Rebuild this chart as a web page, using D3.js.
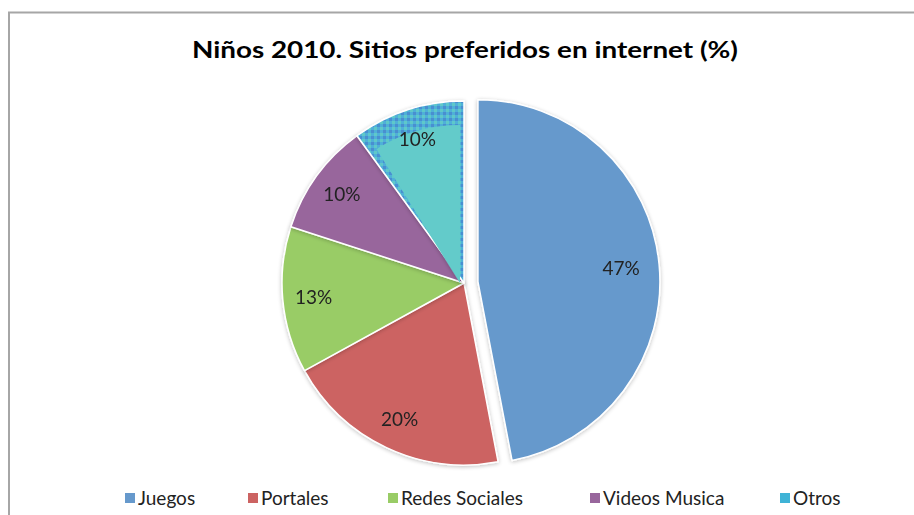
<!DOCTYPE html>
<html>
<head>
<meta charset="utf-8">
<script src="https://cdn.jsdelivr.net/npm/d3@7"></script>
<style>
  html, body { margin: 0; padding: 0; background: #fff; }
  svg { display: block; }
</style>
</head>
<body>
<svg id="chart" width="914" height="515"></svg>
<script>
// Sitios preferidos en internet por niños, 2010 (%)
const categories = ["Juegos", "Portales", "Redes Sociales", "Videos Musica", "Otros"];
const values = [47, 20, 13, 10, 10];
const colors = ["#6699cc", "#cc6362", "#99cc66", "#98669c", "#5ec8c9"];
const explodedIndex = 0;

const svg = d3.select("#chart");
const W = 914, H = 515;
const font = "Lato, Open Sans, Liberation Sans, sans-serif";

// chart frame
svg.append("rect")
  .attr("x", 9).attr("y", 12.5)
  .attr("width", W + 20).attr("height", H + 20)
  .attr("fill", "#fff")
  .attr("stroke", "#a6a6a6").attr("stroke-width", 2);

// title
svg.append("text")
  .attr("x", 465).attr("y", 58)
  .attr("text-anchor", "middle")
  .attr("font-family", font)
  .attr("font-weight", "bold")
  .attr("font-size", 23)
  .attr("textLength", 546)
  .attr("lengthAdjust", "spacingAndGlyphs")
  .attr("fill", "#000")
  .text("Niños 2010. Sitios preferidos en internet (%)");

const cx = 464, cy = 283, r = 182, explode = 14;

const pie = d3.pie().sort(null).value(d => d.value);
const data = pie(categories.map((c, i) => ({ name: c, value: values[i], i })));
const arc = d3.arc().innerRadius(0).outerRadius(r);
const labelArc = d3.arc().innerRadius(r * 0.83).outerRadius(r * 0.83);
const mainLabelArc = d3.arc().innerRadius(r * 0.79).outerRadius(r * 0.79);

// speckle pattern for the last slice
const defs = svg.append("defs");
const pat = defs.append("pattern")
  .attr("id", "speckle").attr("patternUnits", "userSpaceOnUse")
  .attr("width", 6).attr("height", 6);
pat.append("rect").attr("width", 6).attr("height", 6).attr("fill", "#4fb0d8");
pat.append("rect").attr("x", 0).attr("y", 0).attr("width", 3).attr("height", 3).attr("fill", "#5ec8c9");
pat.append("rect").attr("x", 3).attr("y", 3).attr("width", 3).attr("height", 3).attr("fill", "#4a8fd0");

// soft shadow behind pie
const flt = defs.append("filter").attr("id", "shadow")
  .attr("x", "-20%").attr("y", "-20%").attr("width", "140%").attr("height", "140%");
flt.append("feGaussianBlur").attr("in", "SourceAlpha").attr("stdDeviation", 2);
flt.append("feOffset").attr("dx", 0).attr("dy", 1).attr("result", "b");
flt.append("feComponentTransfer").append("feFuncA").attr("type", "linear").attr("slope", 0.25);
const m = flt.append("feMerge");
m.append("feMergeNode");
m.append("feMergeNode").attr("in", "SourceGraphic");

function offsetOf(d) {
  if (d.index !== explodedIndex) return [0, 0];
  const a = (d.startAngle + d.endAngle) / 2;
  return [explode * Math.sin(a), -explode * Math.cos(a)];
}

const g = svg.append("g").attr("transform", `translate(${cx},${cy})`);
const slices = g.selectAll("g.slice").data(data).join("g")
  .attr("class", "slice")
  .attr("transform", d => { const o = offsetOf(d); return `translate(${o[0]},${o[1]})`; })
  .attr("filter", "url(#shadow)");

slices.append("path")
  .attr("d", arc)
  .attr("fill", d => d.index === 4 ? "url(#speckle)" : colors[d.index])
  .attr("stroke", "#fff")
  .attr("stroke-width", 1.5)
  .attr("stroke-linejoin", "round");

// inner lighter panel on the last slice
const inner = d3.arc().innerRadius(0).outerRadius(r - 24);
slices.filter(d => d.index === 4).append("path")
  .attr("d", d => inner({ startAngle: d.startAngle + 0.07, endAngle: d.endAngle }))
  .attr("transform", "translate(-4,0)")
  .attr("fill", "#63cbca");

// data labels
slices.append("text")
  .attr("transform", d => {
    const c = (d.index === explodedIndex ? mainLabelArc : labelArc).centroid(d);
    return `translate(${c[0]},${c[1]})`;
  })
  .attr("text-anchor", "middle")
  .attr("dy", "0.35em")
  .attr("font-family", font)
  .attr("font-size", 19)
  .attr("fill", "#222")
  .text(d => d.data.value + "%");

// legend
const legendX = [125, 248, 388, 590, 780];
const lg = svg.append("g");
categories.forEach((c, i) => {
  const item = lg.append("g").attr("transform", `translate(${legendX[i]},498)`);
  item.append("rect").attr("x", 0).attr("y", -5).attr("width", 10).attr("height", 10)
    .attr("fill", i === 4 ? "#3fb3d6" : colors[i]);
  item.append("text").attr("x", 13).attr("y", 0).attr("dy", "0.35em")
    .attr("font-family", font).attr("font-size", 19).attr("fill", "#222")
    .text(c);
});
</script>
</body>
</html>
